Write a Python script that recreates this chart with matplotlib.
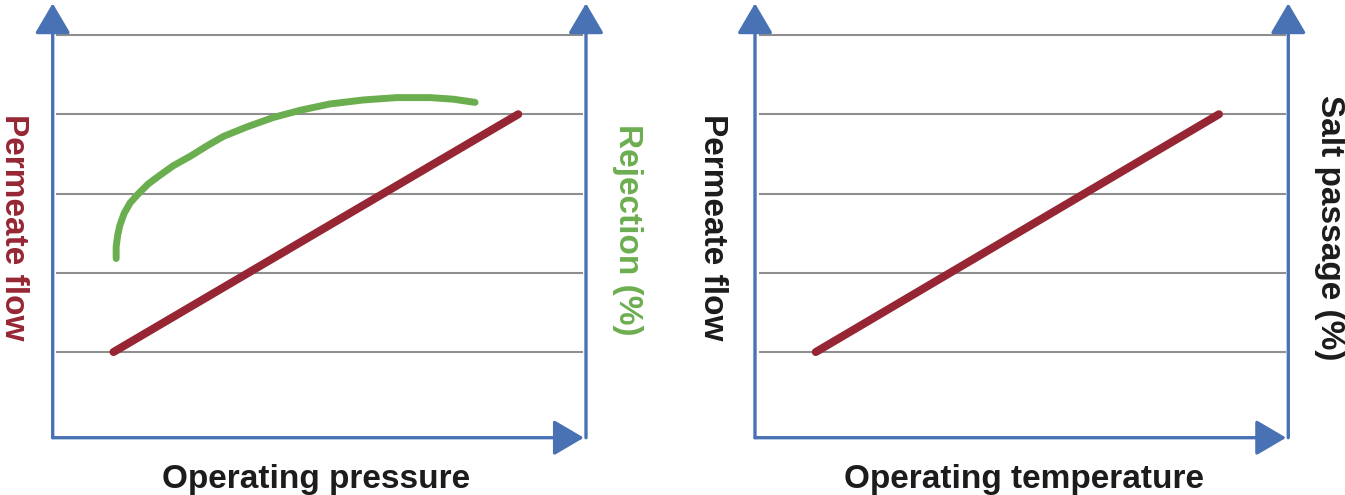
import matplotlib
matplotlib.use('Agg')
import matplotlib.pyplot as plt

plt.rcParams['font.family'] = ['Liberation Sans', 'DejaVu Sans']

# values (x: 0..10 across each panel, y: grid levels 1..5)
grid_levels = [1, 2, 3, 4, 5]

flow_pressure_x = [1.14, 8.73]
flow_pressure_y = [1.0, 4.0]

rejection_x = [1.19, 1.19, 1.22, 1.26, 1.34, 1.45, 1.61, 1.79, 2.01, 2.26, 2.58,
               2.89, 3.20, 3.64, 4.14, 4.64, 5.20, 5.82, 6.45, 7.08, 7.51, 7.92]
rejection_y = [2.18, 2.33, 2.48, 2.60, 2.75, 2.88, 3.00, 3.12, 3.23, 3.35, 3.47,
               3.60, 3.72, 3.84, 3.96, 4.05, 4.13, 4.18, 4.21, 4.21, 4.19, 4.15]

flow_temp_x = [1.14, 8.70]
flow_temp_y = [1.0, 4.0]

BLUE = '#4872b3'
RED = '#962633'
GREEN = '#6bae4f'
GRAY = '#8e8e8e'
TEXT = '#1c1c1c'

fig = plt.figure(figsize=(13.45, 4.95), dpi=100)


def make_panel(left):
    ax = fig.add_axes([left, 0.11576, 0.3965, 0.81354])
    ax.set_xlim(0, 10)
    ax.set_ylim(-0.081, 5.0)
    ax.axis('off')
    ax.hlines(grid_levels, 0.07, 9.95, color=GRAY, lw=1.5, zorder=1, clip_on=False)
    arrow = dict(arrowstyle='-|>,head_length=1.87,head_width=1.1', mutation_scale=10,
                 color=BLUE, lw=2.4, shrinkA=0, shrinkB=0)
    # left and right vertical axes, bottom horizontal axis
    ax.annotate('', xy=(0, 5.40), xytext=(0, -0.081), arrowprops=arrow, annotation_clip=False)
    ax.annotate('', xy=(10, 5.40), xytext=(10, -0.081), arrowprops=arrow, annotation_clip=False)
    ax.annotate('', xy=(9.96, -0.081), xytext=(0, -0.081), arrowprops=arrow, annotation_clip=False)
    return ax


ax1 = make_panel(52.7 / 1345)
ax1.plot(flow_pressure_x, flow_pressure_y, color=RED, lw=5.8, solid_capstyle='round', zorder=3)
ax1.plot(rejection_x, rejection_y, color=GREEN, lw=5.0, solid_capstyle='round',
         solid_joinstyle='round', zorder=3)

ax2 = make_panel(755 / 1345)
ax2.plot(flow_temp_x, flow_temp_y, color=RED, lw=5.8, solid_capstyle='round', zorder=3)

lab = dict(fontsize=24, fontweight='bold', ha='center', va='center')
fig.text(13 / 1345, 1 - 227 / 495, 'Permeate flow', color=RED, rotation=-90, **lab)
fig.text(627 / 1345, 1 - 230 / 495, 'Rejection (%)', color=GREEN, rotation=-90, **lab)
fig.text(713 / 1345, 1 - 227 / 495, 'Permeate flow', color=TEXT, rotation=-90, **lab)
fig.text(1329.5 / 1345, 1 - 228 / 495, 'Salt passage (%)', color=TEXT, rotation=-90, **lab)

fig.text(316 / 1345, 1 - 488 / 495, 'Operating pressure', color=TEXT, fontsize=24,
         fontweight='bold', ha='center', va='baseline')
fig.text(1024 / 1345, 1 - 488 / 495, 'Operating temperature', color=TEXT, fontsize=24,
         fontweight='bold', ha='center', va='baseline')

fig.savefig('out.png', dpi=100)
